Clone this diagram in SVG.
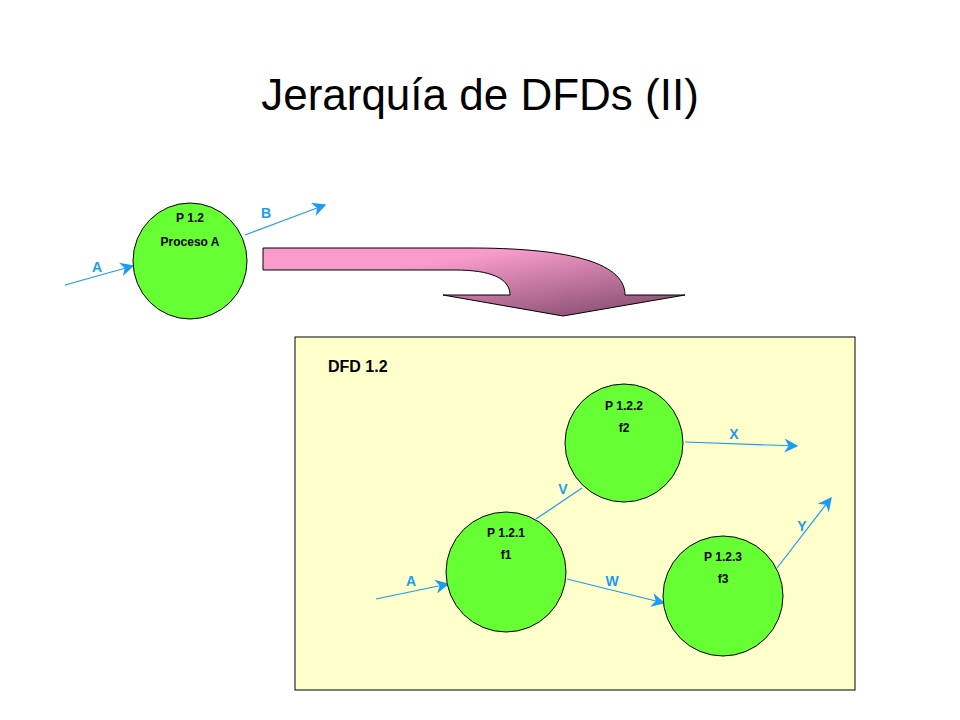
<svg xmlns="http://www.w3.org/2000/svg" width="960" height="720" viewBox="0 0 960 720">
<style>
.n{fill:#66ff33;stroke:#000;stroke-width:1}
.t{font-family:"Liberation Sans",Arial,sans-serif;font-weight:bold;font-size:12px;text-anchor:middle;fill:#000}
.l{font-family:"Liberation Sans",Arial,sans-serif;font-weight:bold;font-size:14px;text-anchor:middle;fill:#1a9cf0}
.c{stroke:#1a9cf0;stroke-width:1.2;fill:none}
</style>
<defs>
<marker id="ah" viewBox="0 0 10 10" refX="9" refY="5" markerWidth="18" markerHeight="14" markerUnits="userSpaceOnUse" orient="auto"><path d="M0,0 L10,5 L0,10 L3,5 Z" fill="#1a9cf0"/></marker>
<linearGradient id="g" x1="0" y1="0" x2="1" y2="1"><stop offset="0.3" stop-color="#f99ccc"/><stop offset="1" stop-color="#7a4565"/></linearGradient>
</defs>
<rect width="960" height="720" fill="#fff"/>
<text x="480" y="110" font-family="Liberation Sans,Arial,sans-serif" font-size="44" text-anchor="middle">Jerarquía de DFDs (II)</text>
<g id="bigarrow"><path d="M263,248 L470,248 C560,248 625,260 625,295 L685,295 L563,316 L443,295 L510,295 C510,278 490,270 455,270 L263,270 Z" fill="url(#g)" stroke="#000" stroke-width="1"/></g>
<g id="box"><rect x="295" y="337" width="560" height="353" fill="#ffffcc" stroke="#000" stroke-width="1"/><text x="328" y="372" font-family="Liberation Sans,Arial,sans-serif" font-weight="bold" font-size="16">DFD 1.2</text></g>
<g id="connectors">
<line class="c" x1="65" y1="285" x2="133" y2="266" marker-end="url(#ah)"/>
<line class="c" x1="245" y1="235" x2="325" y2="205" marker-end="url(#ah)"/>
<line class="c" x1="376" y1="599" x2="448" y2="584" marker-end="url(#ah)"/>
<line class="c" x1="567" y1="579" x2="664" y2="603" marker-end="url(#ah)"/>
<line class="c" x1="536" y1="519" x2="582" y2="488"/>
<line class="c" x1="685" y1="442" x2="797" y2="446" marker-end="url(#ah)"/>
<line class="c" x1="777" y1="568" x2="831" y2="498" marker-end="url(#ah)"/>
<text class="l" x="97" y="272">A</text><text class="l" x="266" y="218">B</text>
<text class="l" x="411" y="586">A</text><text class="l" x="612" y="586">W</text>
<text class="l" x="563" y="494">V</text><text class="l" x="734" y="439">X</text><text class="l" x="802" y="531">Y</text>
</g>
<g id="p12"><ellipse class="n" cx="190" cy="261" rx="57" ry="58"/><text class="t" x="190" y="222">P 1.2</text><text class="t" x="190" y="246">Proceso A</text></g>
<g id="p122"><circle class="n" cx="624" cy="443" r="59"/><text class="t" x="624" y="410">P 1.2.2</text><text class="t" x="624" y="432">f2</text></g>
<g id="p121"><circle class="n" cx="506" cy="572" r="60"/><text class="t" x="506" y="537">P 1.2.1</text><text class="t" x="506" y="559">f1</text></g>
<g id="p123"><circle class="n" cx="723" cy="596" r="60"/><text class="t" x="723" y="561">P 1.2.3</text><text class="t" x="723" y="583">f3</text></g>
</svg>
